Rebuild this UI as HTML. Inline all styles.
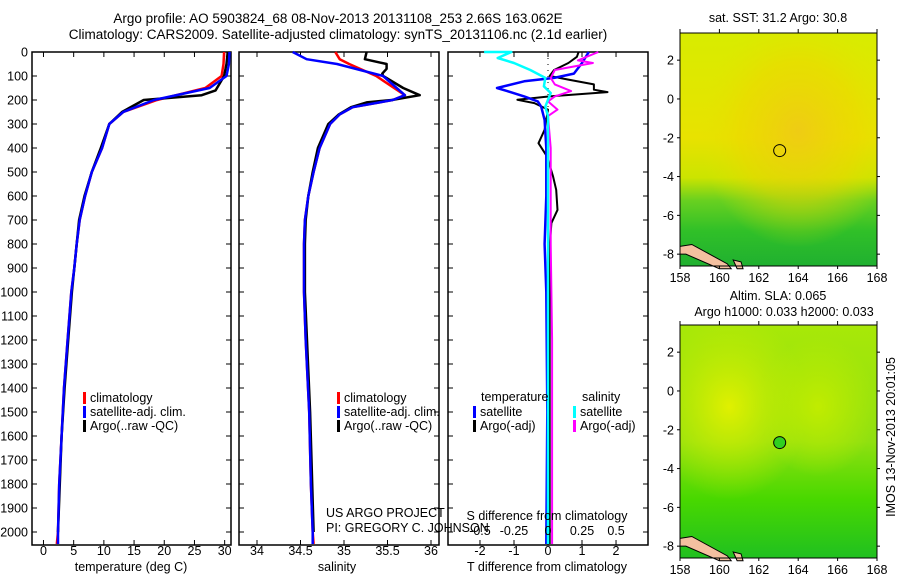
<!DOCTYPE html>
<html><head><meta charset="utf-8">
<style>
html,body{margin:0;padding:0;background:#fff;}
svg{display:block;font-family:"Liberation Sans",sans-serif;}
</style></head>
<body>
<svg id="c" width="900" height="580" viewBox="0 0 900 580" xmlns="http://www.w3.org/2000/svg">
<defs>
<radialGradient id="sstOr" cx="0.6" cy="0.42" r="0.5"><stop offset="0" stop-color="#f0c818" stop-opacity="0.85"/><stop offset="0.6" stop-color="#eed600" stop-opacity="0.5"/><stop offset="1" stop-color="#e0e400" stop-opacity="0"/></radialGradient>
<linearGradient id="sstBase" x1="0" y1="0" x2="0" y2="1"><stop offset="0" stop-color="#d8ec00"/><stop offset="0.45" stop-color="#e8e200"/><stop offset="0.62" stop-color="#cce400"/><stop offset="0.72" stop-color="#68d020"/><stop offset="0.85" stop-color="#30c028"/><stop offset="1" stop-color="#20b030"/></linearGradient>
<linearGradient id="slaBase" x1="0" y1="0" x2="0" y2="1"><stop offset="0" stop-color="#a8e808"/><stop offset="0.5" stop-color="#90e010"/><stop offset="0.75" stop-color="#48d800"/><stop offset="1" stop-color="#20c020"/></linearGradient>
<radialGradient id="slaY" cx="0.25" cy="0.35" r="0.4"><stop offset="0" stop-color="#e0f000"/><stop offset="1" stop-color="#c8ec00" stop-opacity="0"/></radialGradient>
<radialGradient id="slaY2" cx="0.7" cy="0.35" r="0.3"><stop offset="0" stop-color="#c0ec00"/><stop offset="1" stop-color="#c0ec00" stop-opacity="0"/></radialGradient>
</defs>
<g id="titles" font-size="13.5">
<text x="338" y="23" text-anchor="middle">Argo profile: AO 5903824_68 08-Nov-2013 20131108_253 2.66S 163.062E</text>
<text x="338" y="39" text-anchor="middle">Climatology: CARS2009. Satellite-adjusted climatology: synTS_20131106.nc (2.1d earlier)</text>
</g>
<g id="panels"></g>
<g id="maps"></g>
</svg>
<script>
// ---- data ----
const depthTicks=[0,100,200,300,400,500,600,700,800,900,1000,1100,1200,1300,1400,1500,1600,1700,1800,1900,2000];
const tempTicks=[0,5,10,15,20,25,30];
const salTicks=[34,34.5,35,35.5,36];
const diffTTicks=[-2,-1,0,1,2];
const diffSTicks=[-0.5,-0.25,0,0.25,0.5];
const diffSTickLabels=["-0.5","-0.25","0","0.25","0.5"];
const latTicks=[2,0,-2,-4,-6,-8];
const lonTicks=[158,160,162,164,166,168];

const tClimDepth=[0,50,100,150,200,250,300,400,500,600,700,800,900,1000,1200,1400,1600,1800,2000,2050];
const tClim=[29.9,29.8,29.5,26.8,18.8,13.2,10.9,9.7,8.0,6.9,6.0,5.5,5.1,4.6,4.0,3.4,3.0,2.6,2.4,2.2];
const tSat=[30.8,30.7,30.3,27.5,18.3,13.2,10.9,9.7,8.0,6.9,6.0,5.5,5.1,4.6,4.0,3.4,3.0,2.6,2.4,2.4];
const tArgoDepth=[0,50,100,160,180,200,250,300,400,500,600,700,800,900,1000,1200,1400,1600,1800,2000];
const tArgo=[30.5,30.3,29.9,28.5,26.2,16.6,13.0,10.9,9.5,8.0,6.8,5.9,5.5,5.1,4.7,4.1,3.5,3.0,2.7,2.4];

const sDepth=[0,30,50,100,180,200,230,260,300,400,500,600,700,800,1000,1200,1500,1800,2000,2050];
const sClim=[34.90,34.95,35.06,35.37,35.70,35.56,35.10,34.95,34.84,34.72,34.65,34.59,34.55,34.54,34.54,34.56,34.60,34.62,34.64,34.65];
const sSat=[34.41,34.57,34.92,35.45,35.70,35.56,35.10,34.95,34.84,34.72,34.65,34.59,34.55,34.54,34.54,34.56,34.60,34.62,34.64,34.64];
const sArgoDepth=[0,30,50,70,90,100,150,180,200,210,230,260,300,400,500,600,700,800,1000,1500,2000];
const sArgo=[35.26,35.24,35.49,35.49,35.44,35.45,35.68,35.87,35.55,35.26,35.08,34.94,34.82,34.70,34.64,34.59,34.56,34.55,34.55,34.61,34.65];

const dTSatDepth=[0,46,90,108,122,150,163,185,206,228,283,400,600,800,1000,1500,2050];
const dTSat=[1.2,1.0,0.76,0.18,-0.7,-1.5,-1.2,-0.7,-0.3,-0.2,-0.1,-0.05,-0.05,-0.1,-0.05,-0.02,-0.05];
const dTArgoDepth=[0,20,46,75,100,115,135,157,167,185,199,213,240,324,380,435,519,574,658,713,810,935,1200,1600,2050];
const dTArgo=[0.9,0.85,0.6,0.18,0.05,0.6,1.35,1.35,1.75,0.05,-0.9,-0.4,0.0,-0.1,-0.28,-0.03,0.15,0.24,0.28,0.1,0.05,0.05,0.05,0.05,0.05];
const dSArgoDepth=[0,35,46,75,108,135,163,185,206,240,267,400,800,1200,2050];
const dSArgo=[0.37,0.22,0.33,0.05,0.02,0.05,0.17,0.05,0.0,0.07,0.0,0.02,0.02,0.03,0.03];
const dSSatDepth=[0,0,25,46,75,108,143,171,228,267,500,1000,2050];
const dSSat=[-0.47,-0.27,-0.37,-0.25,-0.13,-0.02,-0.03,0.02,-0.02,0.0,0.0,0.0,0.0];

// ---- helpers ----
const NS="http://www.w3.org/2000/svg";
function mk(parent,tag,attrs,txt){const e=document.createElementNS(NS,tag);for(const k in attrs)e.setAttribute(k,attrs[k]);if(txt!==undefined)e.textContent=txt;parent.appendChild(e);return e;}
const PT=52,PB=545;
const yD=d=>PT+d*0.24;
const panelsG=document.getElementById('panels');

function panel(name,x0,x1,vmin,vmax){
  const g=mk(panelsG,'g',{});
  
  
  const sx=v=>x0+(v-vmin)/(vmax-vmin)*(x1-x0);
  return {g,sx,x0,x1};
}
function frame(p,xt,yTicks){
  const r=mk(p.g,'rect',{x:p.x0,y:PT,width:p.x1-p.x0,height:PB-PT,fill:'none',stroke:'#000','stroke-width':1.5});
  
  
  if(yTicks){depthTicks.forEach(d=>{mk(p.g,'line',{x1:p.x0,x2:p.x0+5,y1:yD(d),y2:yD(d),stroke:'#000'});mk(p.g,'line',{x1:p.x1,x2:p.x1-5,y1:yD(d),y2:yD(d),stroke:'#000'});});}
  xt.forEach(v=>{const x=p.sx(v);mk(p.g,'line',{x1:x,x2:x,y1:PT,y2:PT+5,stroke:'#000'});mk(p.g,'line',{x1:x,x2:x,y1:PB,y2:PB-5,stroke:'#000'});});
}
function line(p,vals,depths,color,name,w){
  const pts=vals.map((v,i)=>p.sx(v).toFixed(1)+','+yD(depths[i]).toFixed(1)).join(' ');
  const e=mk(p.g,'polyline',{points:pts,fill:'none',stroke:color,'stroke-width':w||2.5,'stroke-linejoin':'round'});
  
  
}
function txt(g,x,y,s,anchor,name,size){
  const e=mk(g,'text',{x,y,'text-anchor':anchor||'start','font-size':size||12.5},s);
  
  
  return e;
}
function legend(g,x,y,items){
  items.forEach((it,i)=>{
    const b=mk(g,'rect',{x:x,y:y+i*14-10,width:3,height:12,fill:it[1]});
    
    
    txt(g,x+7,y+i*14,it[0],'start','legend-entry');
  });
}

// Panel 1: temperature
const p1=panel('temperature-panel',32,231,-1.9,31.05);
frame(p1,tempTicks,true);
line(p1,tClim,tClimDepth,'#ff0000','temp-climatology-line');
line(p1,tArgo,tArgoDepth,'#000000','temp-argo-line');
line(p1,tSat,tClimDepth,'#0000ff','temp-satellite-line');
depthTicks.forEach(d=>txt(p1.g,28,yD(d)+4.5,String(d),'end','depth-tick-label'));
tempTicks.forEach(v=>txt(p1.g,p1.sx(v),555,String(v),'middle','temp-tick-label'));
txt(p1.g,131,571,'temperature (deg C)','middle','x-axis-title-temperature');
legend(p1.g,83,402,[['climatology','#f00'],['satellite-adj. clim.','#00f'],['Argo(..raw -QC)','#000']]);

// Panel 2: salinity
const p2=panel('salinity-panel',239,439,33.793,36.092);
frame(p2,salTicks,true);
line(p2,sClim,sDepth,'#ff0000','sal-climatology-line');
line(p2,sArgo,sArgoDepth,'#000000','sal-argo-line');
line(p2,sSat,sDepth,'#0000ff','sal-satellite-line');
salTicks.forEach(v=>txt(p2.g,p2.sx(v),555,String(v),'middle','sal-tick-label'));
txt(p2.g,337,571,'salinity','middle','x-axis-title-salinity');
legend(p2.g,337,402,[['climatology','#f00'],['satellite-adj. clim.','#00f'],['Argo(..raw -QC)','#000']]);

// Panel 3: differences
const p3=panel('difference-panel',448,648,-2.94,2.94);
const p3s=v=>p3.sx(v*4);
frame(p3,diffTTicks,true);
for(let d=0;d<=2000;d+=25){mk(p3.g,'rect',{x:p3.sx(0)-0.5,y:yD(d),width:1,height:1,fill:'#000'});}
line(p3,dTArgo,dTArgoDepth,'#000000','diff-temp-argo-line',2);
line(p3,dTSat,dTSatDepth,'#0000ff','diff-temp-satellite-line',2.5);
line(p3,dSArgo.map(v=>v*4),dSArgoDepth,'#ff00ff','diff-sal-argo-line',2);
line(p3,dSSat.map(v=>v*4),dSSatDepth,'#00ffff','diff-sal-satellite-line',2.5);
diffTTicks.forEach(v=>txt(p3.g,p3.sx(v),555,String(v),'middle','diff-t-tick-label'));
diffSTicks.forEach((v,i)=>txt(p3.g,p3s(v),535,diffSTickLabels[i],'middle','diff-s-tick-label'));
txt(p3.g,547,520,'S difference from climatology','middle','s-axis-title');
txt(p3.g,547,571,'T difference from climatology','middle','t-axis-title');
txt(p3.g,481,401,'temperature','start','legend-title-temperature');
txt(p3.g,582,401,'salinity','start','legend-title-salinity');
legend(p3.g,473,416,[['satellite','#00f'],['Argo(-adj)','#000']]);
legend(p3.g,573,416,[['satellite','#0ff'],['Argo(-adj)','#f0f']]);
txt(panelsG,326,517,'US ARGO PROJECT','start','credit-project');
txt(panelsG,326,532,'PI: GREGORY C. JOHNSON','start','credit-pi');

// ---- maps ----
const mapsG=document.getElementById('maps');
function map(name,top,fillA,overlays,circleFill){
  const g=mk(mapsG,'g',{});
  
  
  const x0=680,x1=877,bottom=top+233;
  const lx=lon=>x0+(lon-158)*(x1-x0)/10;
  const ly=lat=>top+(3.4-lat)*19.4;
  mk(g,'rect',{x:x0,y:top,width:x1-x0,height:bottom-top,fill:fillA});
  overlays.forEach(o=>mk(g,'rect',{x:x0,y:top,width:x1-x0,height:bottom-top,fill:o}));
  const coast=mk(g,'polygon',{points:`${lx(158)},${ly(-7.6)} ${lx(158.6)},${ly(-7.5)} ${lx(160.4)},${ly(-8.5)} ${lx(160.6)},${ly(-8.75)} ${lx(160.0)},${ly(-8.75)} ${lx(158.3)},${ly(-8.0)} ${lx(158)},${ly(-8.0)}`,fill:'#f4c0a0',stroke:'#000','stroke-width':1});
  
  
  mk(g,'polygon',{points:`${lx(160.7)},${ly(-8.3)} ${lx(161.1)},${ly(-8.4)} ${lx(161.2)},${ly(-8.75)} ${lx(160.9)},${ly(-8.75)}`,fill:'#f4c0a0',stroke:'#000'});
  mk(g,'rect',{x:x0,y:top,width:x1-x0,height:bottom-top,fill:'none',stroke:'#000','stroke-width':1});
  lonTicks.forEach(v=>{const x=lx(v);mk(g,'line',{x1:x,x2:x,y1:top,y2:top-4,stroke:'#000'});mk(g,'line',{x1:x,x2:x,y1:bottom,y2:bottom+3,stroke:'#000'});txt(g,x,bottom+16,String(v),'middle','lon-tick-label',12.5);});
  latTicks.forEach(v=>{const y=ly(v);mk(g,'line',{x1:x0,x2:x0-3,y1:y,y2:y,stroke:'#000'});mk(g,'line',{x1:x1,x2:x1+3,y1:y,y2:y,stroke:'#000'});txt(g,674,y+4.5,String(v),'end','lat-tick-label',12.5);});
  const c=mk(g,'circle',{cx:lx(163.06),cy:ly(-2.66),r:6,fill:circleFill,stroke:'#000','stroke-width':1});
  
  
  return g;
}
const m1=map('sst-map',33,'url(#sstBase)',['url(#sstOr)'],'none');
txt(m1,778,22,'sat. SST: 31.2 Argo: 30.8','middle','sst-map-title',12.5);
const m2=map('sla-map',325,'url(#slaBase)',['url(#slaY)','url(#slaY2)'],'#30d020');
txt(m2,778,300,'Altim. SLA: 0.065','middle','sla-map-title',12.5);
txt(m2,784,316,'Argo h1000: 0.033 h2000: 0.033','middle','sla-map-subtitle',12.5);
const im=txt(mapsG,0,0,'IMOS 13-Nov-2013 20:01:05','middle','imos-timestamp',12.5);
im.setAttribute('transform','translate(895,437) rotate(-90)');
</script>
</body></html>
